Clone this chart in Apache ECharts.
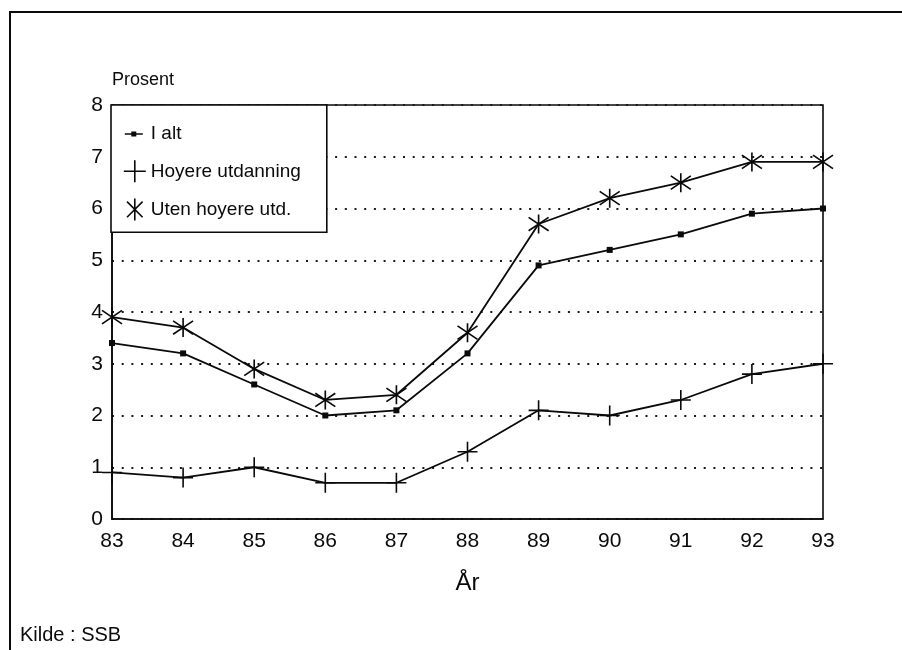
<!DOCTYPE html>
<html>
<head>
<meta charset="utf-8">
<title>Prosent</title>
<script src="https://cdn.jsdelivr.net/npm/echarts@6/dist/echarts.min.js"></script>
<style>
  html, body { margin: 0; padding: 0; background: #fff; }
  #chart { width: 902px; height: 650px; }
</style>
</head>
<body>
<div id="chart"></div>
<script>
// values
const years = ['83', '84', '85', '86', '87', '88', '89', '90', '91', '92', '93'];
const iAlt = [3.4, 3.2, 2.6, 2.0, 2.1, 3.2, 4.9, 5.2, 5.5, 5.9, 6.0];
const hoyere = [0.9, 0.8, 1.0, 0.7, 0.7, 1.3, 2.1, 2.0, 2.3, 2.8, 3.0];
const uten = [3.9, 3.7, 2.9, 2.3, 2.4, 3.6, 5.7, 6.2, 6.5, 6.9, 6.9];
const yTicks = [0, 1, 2, 3, 4, 5, 6, 7, 8];

const font = '"Liberation Sans", Arial, sans-serif';
const ink = '#0a0a0a';
const plusPath = 'path://M12,0V24M0,12H24';
const starPath = 'path://M12,0V24M3.5,3.5L20.5,20.5M3.5,20.5L20.5,3.5';
const lineSquarePath = 'path://M0,0M22,22M1,10.2h18v1.6h-18zM7.5,8.5h5v5h-5z';

let myChart = echarts.init(document.getElementById('chart'));
myChart.setOption({
  animation: false,
  backgroundColor: '#fff',
  textStyle: { fontFamily: font, color: ink },
  graphic: [
    {
      // outer frame, runs off the right and bottom edge
      type: 'rect',
      shape: { x: 10, y: 12, width: 1000, height: 1000 },
      style: { fill: null, stroke: ink, lineWidth: 2 },
      silent: true
    },
    {
      type: 'text',
      left: 20,
      top: 625,
      style: { text: 'Kilde : SSB', fontSize: 20, fontFamily: font, fill: ink }
    }
  ],
  grid: {
    left: 112,
    right: 79,
    top: 105,
    bottom: 131,
    show: true,
    borderColor: ink,
    borderWidth: 1.6,
    containLabel: false
  },
  legend: {
    orient: 'vertical',
    left: 111,
    top: 105,
    backgroundColor: '#fff',
    borderColor: ink,
    borderWidth: 1.6,
    borderRadius: 0,
    padding: [18, 26, 11, 12],
    itemGap: 14.5,
    itemWidth: 22,
    itemHeight: 22,
    selectedMode: false,
    textStyle: { fontSize: 19, color: ink, fontFamily: font },
    data: [
      { name: 'I alt', icon: lineSquarePath, itemStyle: { color: ink, borderWidth: 0 } },
      { name: 'Hoyere utdanning', icon: plusPath, itemStyle: { color: ink, borderColor: ink, borderWidth: 1.6 } },
      { name: 'Uten hoyere utd.', icon: starPath, itemStyle: { color: ink, borderColor: ink, borderWidth: 1.6 } }
    ]
  },
  xAxis: {
    type: 'category',
    data: years,
    boundaryGap: false,
    name: 'År',
    nameLocation: 'middle',
    nameGap: 52,
    nameTextStyle: { fontSize: 24, color: ink, fontFamily: font },
    axisLine: { lineStyle: { color: ink, width: 1.6 } },
    axisTick: { show: false },
    axisLabel: { fontSize: 21, color: ink, margin: 12, fontFamily: font },
    splitLine: { show: false }
  },
  yAxis: {
    type: 'value',
    min: yTicks[0],
    max: yTicks[yTicks.length - 1],
    interval: 1,
    name: 'Prosent',
    nameLocation: 'end',
    nameGap: 25,
    nameTextStyle: { fontSize: 18, color: ink, align: 'left', verticalAlign: 'middle', fontFamily: font },
    axisLine: { show: true, lineStyle: { color: ink, width: 1.6 } },
    axisTick: { show: false },
    axisLabel: { fontSize: 21, color: ink, margin: 9, fontFamily: font },
    splitLine: {
      show: true,
      lineStyle: { color: '#1a1a1a', width: 2, type: [2, 7.7] }
    }
  },
  series: [
    {
      name: 'I alt',
      type: 'line',
      data: iAlt,
      symbol: 'rect',
      symbolSize: 6,
      itemStyle: { color: ink },
      lineStyle: { color: ink, width: 1.8 },
      z: 3
    },
    {
      name: 'Hoyere utdanning',
      type: 'line',
      data: hoyere,
      symbol: plusPath,
      symbolSize: 20,
      itemStyle: { color: ink, borderColor: ink, borderWidth: 1.6 },
      lineStyle: { color: ink, width: 1.8 },
      z: 3
    },
    {
      name: 'Uten hoyere utd.',
      type: 'line',
      data: uten,
      symbol: starPath,
      symbolSize: [20, 19],
      itemStyle: { color: ink, borderColor: ink, borderWidth: 1.6 },
      lineStyle: { color: ink, width: 1.8 },
      z: 3
    }
  ]
});
</script>
</body>
</html>
